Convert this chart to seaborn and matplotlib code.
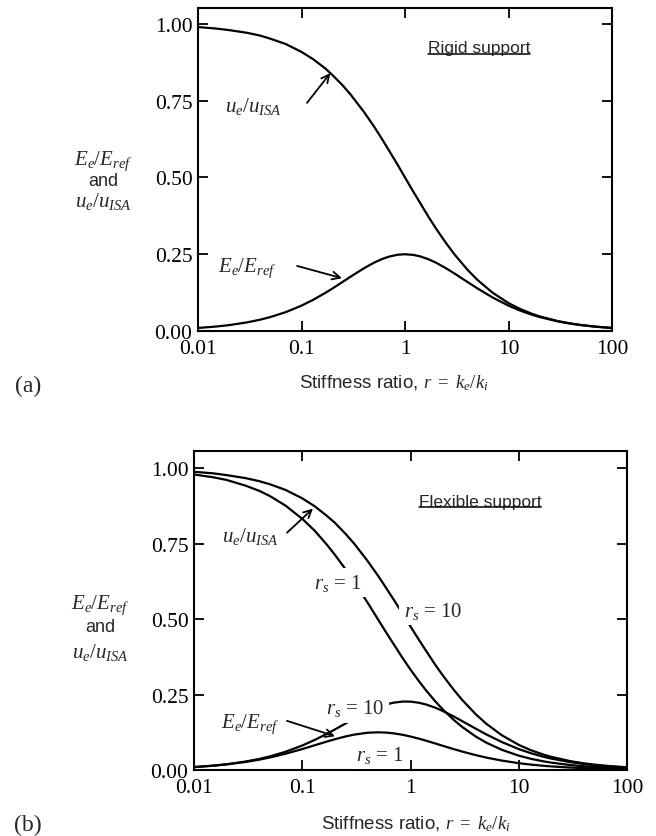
import numpy as np
import pandas as pd
import matplotlib
matplotlib.use('Agg')
import matplotlib.pyplot as plt
import seaborn as sns
from matplotlib.lines import Line2D

# ---- data ----
r = [0.01, 0.015, 0.02, 0.03, 0.04, 0.05, 0.07, 0.1, 0.13, 0.17, 0.2, 0.25, 0.3, 0.4, 0.5,
     0.6, 0.7, 0.85, 1, 1.2, 1.4, 1.7, 2, 2.5, 3, 4, 5, 7, 10, 13, 17, 20, 30, 40, 50, 70, 100]

# (a) rigid support
u_rigid = [0.990, 0.985, 0.980, 0.971, 0.962, 0.952, 0.935, 0.909, 0.885, 0.855, 0.833, 0.800,
           0.769, 0.714, 0.667, 0.625, 0.588, 0.541, 0.500, 0.4545, 0.417, 0.370, 0.333, 0.2857,
           0.250, 0.200, 0.1667, 0.125, 0.0909, 0.0714, 0.0556, 0.0476, 0.0323, 0.0244, 0.0196,
           0.0141, 0.0099]
E_rigid = [0.0098, 0.0146, 0.0192, 0.0283, 0.0370, 0.0454, 0.0611, 0.0826, 0.1018, 0.1242, 0.1389,
           0.160, 0.1775, 0.2041, 0.2222, 0.2344, 0.2422, 0.2484, 0.250, 0.2479, 0.2431, 0.2332,
           0.2222, 0.2041, 0.1875, 0.160, 0.1389, 0.1094, 0.0826, 0.0663, 0.0525, 0.0454, 0.0312,
           0.0238, 0.0192, 0.0139, 0.0098]

# (b) flexible support, r_s = 1 and r_s = 10
u_rs1 = [0.980, 0.971, 0.962, 0.943, 0.926, 0.909, 0.877, 0.833, 0.794, 0.746, 0.714, 0.667,
         0.625, 0.556, 0.500, 0.4545, 0.417, 0.370, 0.333, 0.294, 0.263, 0.227, 0.200, 0.1667,
         0.1429, 0.1111, 0.0909, 0.0667, 0.0476, 0.0370, 0.0286, 0.0244, 0.0164, 0.0123, 0.0099,
         0.0071, 0.0050]
u_rs10 = [0.989, 0.984, 0.978, 0.968, 0.958, 0.948, 0.929, 0.901, 0.875, 0.842, 0.820, 0.784,
          0.752, 0.694, 0.645, 0.602, 0.565, 0.517, 0.476, 0.431, 0.394, 0.348, 0.3125, 0.2667,
          0.2326, 0.1852, 0.1538, 0.1149, 0.0833, 0.0654, 0.0508, 0.0435, 0.0294, 0.0222, 0.0179,
          0.0128, 0.0090]
E_rs1 = [0.0096, 0.0141, 0.0185, 0.0267, 0.0343, 0.0413, 0.0539, 0.0694, 0.0819, 0.0947, 0.1020,
         0.1111, 0.1172, 0.1235, 0.125, 0.1240, 0.1215, 0.1166, 0.1111, 0.1038, 0.0970, 0.0878,
         0.080, 0.0694, 0.0612, 0.0494, 0.0413, 0.0311, 0.0227, 0.0178, 0.0139, 0.0119, 0.0081,
         0.0061, 0.0049, 0.0035, 0.0025]
E_rs10 = [0.0098, 0.0145, 0.0191, 0.0281, 0.0367, 0.0449, 0.0604, 0.0812, 0.0995, 0.1207, 0.1344,
          0.1538, 0.1696, 0.1929, 0.2081, 0.2177, 0.2234, 0.2270, 0.2268, 0.2229, 0.2170, 0.2064,
          0.1953, 0.1778, 0.1622, 0.1372, 0.1183, 0.0925, 0.0694, 0.0555, 0.0438, 0.0378, 0.0260,
          0.0198, 0.0159, 0.0115, 0.0081]

x_ticks = [0.01, 0.1, 1, 10, 100]
x_tick_labels = ['0.01', '0.1', '1', '10', '100']
y_ticks = [0.0, 0.25, 0.5, 0.75, 1.0]
y_tick_labels = ['0.00', '0.25', '0.50', '0.75', '1.00']

# ---- style ----
sns.set_style('ticks')
plt.rcParams['font.family'] = ['Liberation Sans', 'DejaVu Sans']
plt.rcParams['mathtext.fontset'] = 'custom'
plt.rcParams['mathtext.rm'] = 'Liberation Serif'
plt.rcParams['mathtext.it'] = 'Liberation Serif:italic'
plt.rcParams['mathtext.bf'] = 'Liberation Serif:bold'
plt.rcParams['lines.solid_joinstyle'] = 'round'

SERIF = 'Liberation Serif'
LW = 1.6

fig = plt.figure(figsize=(6.56, 8.37), dpi=100)
W, H = 656, 837
ax1 = fig.add_axes([198 / W, 1 - 332 / H, 414 / W, 323 / H])
ax2 = fig.add_axes([194 / W, 1 - 771 / H, 433 / W, 319 / H])

df_a = pd.DataFrame({'r': r, 'u': u_rigid, 'E': E_rigid})
df_b = pd.DataFrame({'r': r, 'u1': u_rs1, 'u10': u_rs10, 'E1': E_rs1, 'E10': E_rs10})

for col in ['u', 'E']:
    sns.lineplot(data=df_a, x='r', y=col, ax=ax1, color='black', lw=LW, estimator=None)
for col in ['u1', 'u10', 'E1', 'E10']:
    sns.lineplot(data=df_b, x='r', y=col, ax=ax2, color='black', lw=LW, estimator=None)


def style(ax, ytop):
    ax.set_xscale('log')
    ax.set_xlim(0.01, 100)
    ax.set_ylim(0, ytop)
    ax.set_xticks(x_ticks)
    ax.set_xticklabels(x_tick_labels)
    ax.set_yticks(y_ticks)
    ax.set_yticklabels(y_tick_labels)
    ax.minorticks_off()
    ax.tick_params(axis='both', which='major', direction='in', length=7, width=1.3,
                   top=True, right=True, labelsize=15.5, colors='black')
    ax.tick_params(axis='x', pad=6)
    ax.tick_params(axis='y', pad=4)
    for s in ax.spines.values():
        s.set_linewidth(1.5)
        s.set_color('black')
    ax.set_xlabel('')
    ax.set_ylabel('')
    for lab in ax.get_xticklabels() + ax.get_yticklabels():
        lab.set_fontfamily(SERIF)


style(ax1, 1.052)
style(ax2, 1.058)

math_fs = 15
arrow = dict(arrowstyle='->', lw=1.3, color='black', mutation_scale=14, shrinkA=0, shrinkB=0)

# ---- panel (a) annotations ----
ax1.text(0.034, 0.733, r'$u_e/u_{ISA}$', fontsize=math_fs, ha='center', va='center')
ax1.annotate('', xy=(0.19, 0.84), xytext=(0.113, 0.743), arrowprops=arrow)
ax1.text(0.030, 0.208, r'$E_e/E_{ref}$', fontsize=math_fs, ha='center', va='center')
ax1.annotate('', xy=(0.246, 0.172), xytext=(0.0906, 0.212), arrowprops=arrow)
t_rigid = ax1.text(5.19, 0.922, 'Rigid support', fontsize=12.5, ha='center', va='center')

# ---- panel (b) annotations ----
box = dict(boxstyle='square,pad=0.2', fc='white', ec='none')
ax2.text(0.0329, 0.777, r'$u_e/u_{ISA}$', fontsize=math_fs, ha='center', va='center')
ax2.annotate('', xy=(0.1256, 0.867), xytext=(0.0723, 0.787), arrowprops=arrow)
ax2.text(0.212, 0.621, r'$r_s$ = 1', fontsize=math_fs, ha='center', va='center',
         family=SERIF, bbox=box, zorder=5)
ax2.text(1.61, 0.528, r'$r_s$ = 10', fontsize=math_fs, ha='center', va='center',
         family=SERIF, bbox=box, zorder=5)
ax2.text(0.31, 0.206, r'$r_s$ = 10', fontsize=math_fs, ha='center', va='center',
         family=SERIF, bbox=box, zorder=5)
ax2.text(0.522, 0.053, r'$r_s$ = 1', fontsize=math_fs, ha='center', va='center',
         family=SERIF, bbox=box, zorder=5)
ax2.text(0.0329, 0.156, r'$E_e/E_{ref}$', fontsize=math_fs, ha='center', va='center')
ax2.annotate('', xy=(0.201, 0.112), xytext=(0.0723, 0.163), arrowprops=arrow)
t_flex = ax2.text(4.38, 0.891, 'Flexible support', fontsize=12.5, ha='center', va='center')

# ---- axis titles ----
xlab = r'Stiffness ratio, $r\ =\ k_e/k_i$'
fig.text(394 / W, 1 - 383 / H, xlab, fontsize=13.5, ha='center', va='center')
fig.text(416 / W, 1 - 824 / H, xlab, fontsize=13.5, ha='center', va='center')

for (xc, ys) in [(103, (161, 181, 202)), (100, (605, 628, 653))]:
    fig.text(xc / W, 1 - ys[0] / H, r'$E_e/E_{ref}$', fontsize=math_fs, ha='center', va='center')
    fig.text(xc / W, 1 - ys[1] / H, 'and', fontsize=13, ha='center', va='center')
    fig.text(xc / W, 1 - ys[2] / H, r'$u_e/u_{ISA}$', fontsize=math_fs, ha='center', va='center')

fig.text(28 / W, 1 - 386 / H, '(a)', fontsize=17, family=SERIF, ha='center', va='center')
fig.text(28 / W, 1 - 825 / H, '(b)', fontsize=17, family=SERIF, ha='center', va='center')

# underline the support labels
fig.canvas.draw()
renderer = fig.canvas.get_renderer()
inv = fig.transFigure.inverted()
for t in (t_rigid, t_flex):
    bb = t.get_window_extent(renderer)
    (x0, y0), (x1, _) = inv.transform([[bb.x0, bb.y0 + 1.5], [bb.x1, bb.y0 + 1.5]])
    fig.add_artist(Line2D([x0, x1], [y0, y0], transform=fig.transFigure, color='black', lw=1.1))

fig.savefig('out.png', dpi=100)
